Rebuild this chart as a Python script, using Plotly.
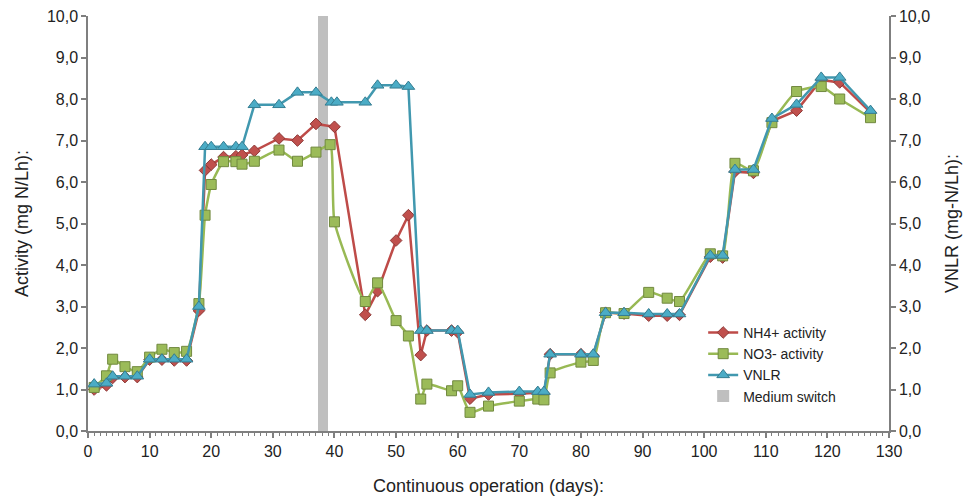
import plotly.graph_objects as go

# Operating days and measured activities
days_nh4 = [1, 3, 4, 6, 8, 10, 12, 14, 16, 18, 19, 20, 22, 24, 25, 27, 31, 34, 37, 40,
            45, 47, 50, 52, 54, 55, 59, 60, 62, 65, 70, 73, 74, 75, 80, 82, 84, 87, 91,
            94, 96, 101, 103, 105, 108, 111, 115, 119, 122, 127]
nh4_activity = [1.0, 1.1, 1.28, 1.3, 1.3, 1.72, 1.72, 1.7, 1.7, 2.9, 6.28, 6.42, 6.6, 6.62,
                6.65, 6.75, 7.05, 7.0, 7.4, 7.33, 2.8, 3.37, 4.59, 5.2, 1.83, 2.42, 2.42,
                2.38, 0.78, 0.88, 0.9, 0.92, 0.9, 1.85, 1.85, 1.82, 2.85, 2.83, 2.78, 2.78,
                2.8, 4.2, 4.18, 6.25, 6.22, 7.47, 7.72, 8.46, 8.4, 7.68]

days_no3 = [1, 3, 4, 6, 8, 10, 12, 14, 16, 18, 19, 20, 22, 24, 25, 27, 31, 34, 37, 39.3, 40,
            45, 47, 50, 52, 54, 55, 59, 60, 62, 65, 70, 73, 74, 75, 80, 82, 84, 87, 91,
            94, 96, 101, 103, 105, 108, 111, 115, 119, 122, 127]
no3_activity = [1.05, 1.33, 1.73, 1.55, 1.43, 1.78, 1.97, 1.89, 1.92, 3.07, 5.2, 5.94, 6.49,
                6.49, 6.43, 6.5, 6.77, 6.5, 6.72, 6.9, 5.04, 3.12, 3.57, 2.66, 2.29, 0.77,
                1.13, 0.97, 1.09, 0.45, 0.6, 0.72, 0.77, 0.75, 1.4, 1.66, 1.7, 2.85, 2.83,
                3.34, 3.2, 3.12, 4.27, 4.22, 6.45, 6.27, 7.43, 8.18, 8.3, 8.0, 7.55]

days_vnlr = [1, 3, 4, 6, 8, 10, 12, 14, 16, 18, 19, 20, 22, 24, 25, 27, 31, 34, 37, 39.5, 40.4,
             45, 47, 50, 52, 54, 55, 59, 60, 62, 65, 70, 73, 74, 75, 80, 82, 84, 87, 91,
             94, 96, 101, 103, 105, 108, 111, 115, 119, 122, 127]
vnlr = [1.13, 1.15, 1.32, 1.32, 1.32, 1.73, 1.73, 1.73, 1.73, 3.0, 6.85, 6.85, 6.85, 6.85,
        6.85, 7.86, 7.86, 8.16, 8.16, 7.92, 7.92, 7.92, 8.33, 8.33, 8.3, 2.42, 2.42, 2.42,
        2.42, 0.88, 0.93, 0.95, 0.95, 0.95, 1.85, 1.85, 1.85, 2.85, 2.85, 2.82, 2.82, 2.82,
        4.23, 4.23, 6.3, 6.3, 7.53, 7.87, 8.52, 8.52, 7.72]

# Day of the medium switch and the marker height
switch_day = [38.1]
switch_height = [10]

FONT = "Liberation Sans, Arial, sans-serif"
AXIS_COLOR = "#7F7F7F"

fig = go.Figure()

fig.add_trace(go.Scatter(
    x=days_nh4, y=nh4_activity, name="NH4+ activity", mode="lines+markers",
    line=dict(color="#BE4B48", width=2.5),
    marker=dict(symbol="diamond", size=9, color="#C0504D",
                line=dict(color="#8C3836", width=1)),
))

fig.add_trace(go.Scatter(
    x=days_no3, y=no3_activity, name="NO3- activity", mode="lines+markers",
    line=dict(color="#98B954", width=2.5, shape="spline", smoothing=0.5),
    marker=dict(symbol="square", size=10, color="#9BBB59",
                line=dict(color="#71893F", width=1)),
))

fig.add_trace(go.Scatter(
    x=days_vnlr, y=vnlr, name="VNLR", mode="lines+markers", yaxis="y2",
    line=dict(color="#4198AF", width=2.5),
    marker=dict(symbol="triangle-up", size=11, color="#4BACC6",
                line=dict(color="#357D91", width=1)),
))

# Grey band marking the medium switch (bars sit beneath the lines)
fig.add_trace(go.Bar(
    x=switch_day, y=switch_height, width=1.6, name="Medium switch",
    marker=dict(color="#BFBFBF", line=dict(width=0)), showlegend=True,
))

axis_common = dict(
    showline=True, linecolor=AXIS_COLOR, linewidth=1.5,
    ticks="outside", tickcolor=AXIS_COLOR, ticklen=5, tickwidth=1.5,
    showgrid=False, zeroline=False, automargin=False,
    tickfont=dict(family=FONT, size=16, color="#222222"),
)

fig.update_layout(
    width=969, height=502,
    margin=dict(l=88, r=80, t=16, b=71),
    paper_bgcolor="white", plot_bgcolor="white",
    separators=",.",
    bargap=0,
    font=dict(family=FONT, color="#222222"),
    xaxis=dict(
        range=[0, 130], dtick=10, tick0=0,
        minor=dict(dtick=1, ticks="outside", ticklen=3, tickcolor=AXIS_COLOR, tickwidth=1),
        title=dict(text="Continuous operation (days):", font=dict(family=FONT, size=18),
                   standoff=20),
        **axis_common,
    ),
    yaxis=dict(
        range=[0, 10], dtick=1, tickformat=".1f",
        title=dict(text="Activity (mg N/Lh):", font=dict(family=FONT, size=18), standoff=14),
        **axis_common,
    ),
    yaxis2=dict(
        range=[0, 10], dtick=1, tickformat=".1f", overlaying="y", side="right",
        title=dict(text="VNLR (mg-N/Lh):", font=dict(family=FONT, size=18), standoff=16),
        **axis_common,
    ),
    legend=dict(
        x=0.768, y=0.275, xanchor="left", yanchor="top",
        bgcolor="rgba(255,255,255,0)", borderwidth=0,
        font=dict(family=FONT, size=14, color="#222222"),
        tracegroupgap=0, itemwidth=30,
        traceorder="normal",
    ),
)

fig.write_html("out.html")
